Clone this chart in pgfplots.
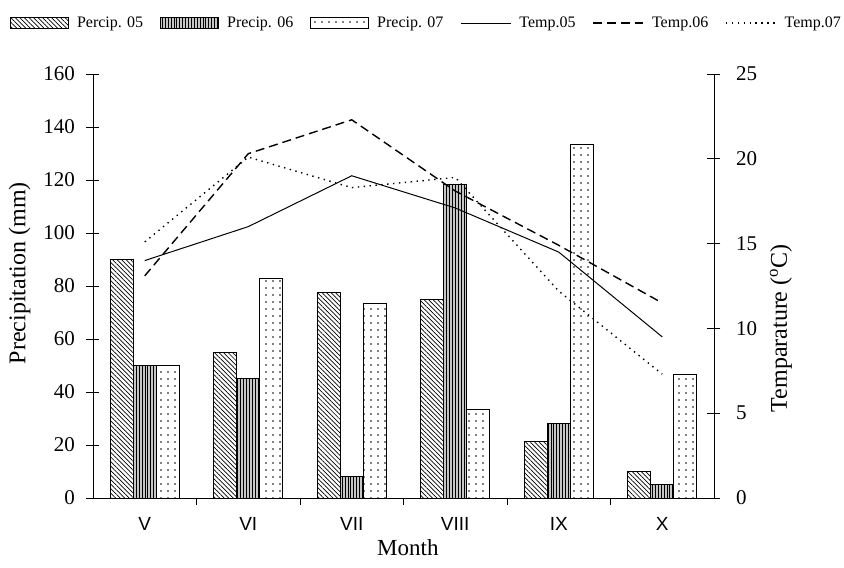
\documentclass[border=0pt]{standalone}
\usepackage{fontspec}
\setmainfont{Liberation Serif}
\newfontfamily\arialfont{Liberation Sans}
\usepackage{pgfplots}
\pgfplotsset{compat=1.18}
\usetikzlibrary{patterns.meta}

\pgfplotsset{
  barleg/.style={legend image code/.code={\draw[##1] (0pt,-5.5pt) rectangle (58pt,5.5pt); \path (64pt,0pt);}},
  lineleg/.style={legend image code/.code={\draw[##1] (0pt,0pt) -- (50pt,0pt); \path (56pt,0pt);}},
  p05/.style={draw=black, line width=0.9pt, pattern={Lines[angle=-45,distance=3.2pt,line width=0.7pt]}},
  p06/.style={draw=black, line width=0.9pt, fill=gray!45, postaction={pattern={Lines[angle=90,distance=2.9pt,line width=0.9pt]}}},
  p07/.style={draw=black, line width=0.9pt, fill=white, postaction={pattern={Dots[distance=7pt,radius=0.8pt]}}},
}

\begin{document}
\begin{tikzpicture}
\path[use as bounding box] (-93pt,-70pt) rectangle (751pt,498pt);

% precipitation bars
\begin{axis}[
  scale only axis, width=621pt, height=424pt,
  xmin=-0.5, xmax=5.5, ymin=0, ymax=160,
  axis x line*=bottom, axis y line*=left,
  axis line style={line width=0.9pt},
  ybar=0pt, bar width=23pt,
  xtick={0,...,5}, xticklabels={V,VI,VII,VIII,IX,X},
  major x tick style={draw=none},
  minor xtick={0.5,1.5,2.5,3.5,4.5},
  minor x tick style={black, line width=0.9pt},
  minor tick length=7pt,
  xtick align=outside,
  ytick={0,20,...,160}, ytick align=center, major tick length=13pt,
  y tick style={black, line width=0.9pt},
  /pgf/number format/assume math mode=true,
  xticklabel style={font=\arialfont\fontsize{19}{19}\selectfont, yshift=-3pt},
  yticklabel style={font=\fontsize{21}{21}\selectfont, xshift=-8pt},
  xlabel={Month},
  xlabel style={font=\fontsize{23}{23}\selectfont, at={(axis description cs:0.507,-0.118)}, anchor=center},
  ylabel={Precipitation (mm)},
  ylabel style={font=\fontsize{24}{24}\selectfont, at={(axis description cs:-0.118,0.53)}, anchor=center},
]
\addplot[p05] coordinates {(0,90) (1,55) (2,77.5) (3,75) (4,21.5) (5,10)};
\addplot[p06] coordinates {(0,50) (1,45) (2,8) (3,118.5) (4,28) (5,5)};
\addplot[p07] coordinates {(0,50) (1,83) (2,73.5) (3,33.5) (4,133.5) (5,46.5)};
\end{axis}

% temperature lines
\begin{axis}[
  scale only axis, width=621pt, height=424pt,
  xmin=-0.5, xmax=5.5, ymin=0, ymax=25,
  axis x line=none, axis y line*=right,
  axis line style={line width=0.9pt},
  ytick={0,5,...,25}, ytick align=center, major tick length=13pt,
  y tick style={black, line width=0.9pt},
  /pgf/number format/assume math mode=true,
  yticklabel style={font=\fontsize{21}{21}\selectfont, xshift=12pt},
  ylabel={Temparature (\textsuperscript{o}C)},
  ylabel style={font=\fontsize{24}{24}\selectfont, at={(axis description cs:1.108,0.4)}, anchor=center},
  legend style={at={(axis description cs:0.537,1.12)}, anchor=center, draw=none, fill=none,
    font=\fontsize{16}{16}\selectfont, inner sep=0pt,
    /tikz/every even column/.append style={column sep=15pt}},
  legend columns=-1,
]
\addlegendimage{barleg, p05}
\addlegendimage{barleg, p06}
\addlegendimage{barleg, p07}
\addplot[lineleg, black, line width=1pt] coordinates {(0,14.0) (1,16.0) (2,19.0) (3,17.1) (4,14.5) (5,9.5)};
\addplot[lineleg, black, line width=1.4pt, dash pattern=on 9pt off 5pt] coordinates {(0,13.1) (1,20.3) (2,22.3) (3,18.1) (4,14.9) (5,11.5)};
\addplot[lineleg, black, line width=1.4pt, dash pattern=on 1.4pt off 4.5pt] coordinates {(0,15.1) (1,20.1) (2,18.3) (3,18.9) (4,12.2) (5,7.3)};
\legend{Percip. 05, Precip. 06, Precip. 07, Temp.05, Temp.06, Temp.07}
\end{axis}
\end{tikzpicture}
\end{document}
